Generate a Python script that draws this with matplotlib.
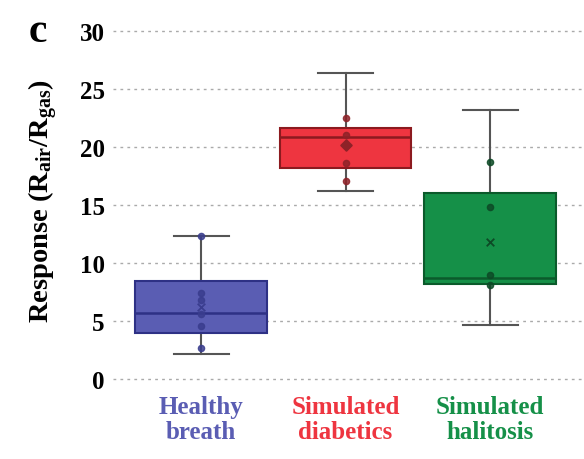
import matplotlib.pyplot as plt

plt.rcParams['font.family'] = ['Liberation Serif', 'DejaVu Serif']
plt.rcParams['font.weight'] = 'bold'
plt.rcParams['axes.labelweight'] = 'bold'
plt.rcParams['mathtext.fontset'] = 'custom'
plt.rcParams['mathtext.rm'] = 'Liberation Serif:bold'
plt.rcParams['mathtext.it'] = 'Liberation Serif:bold'
plt.rcParams['mathtext.bf'] = 'Liberation Serif:bold'
plt.rcParams['mathtext.default'] = 'rm'

groups = ['Healthy\nbreath', 'Simulated\ndiabetics', 'Simulated\nhalitosis']
whislo = [2.2, 16.2, 4.7]
q1 = [4.0, 18.2, 8.2]
med = [5.7, 20.9, 8.75]
q3 = [8.5, 21.6, 16.0]
whishi = [12.3, 26.4, 23.2]
means = [6.2, 20.2, 11.8]
mean_markers = ['x', 'D', 'x']
points = [
    [12.3, 7.4, 6.8, 5.6, 4.6, 2.7],
    [22.5, 21.0, 18.6, 17.1],
    [18.7, 14.8, 9.0, 8.1],
]

fills = ['#5a5db3', '#ee3540', '#159048']
edges = ['#2e3185', '#8c1a1f', '#0b5a2b']
dots = ['#3a3d8e', '#8e2228', '#0d4a26']

fig = plt.figure(figsize=(5.84, 4.60), dpi=100)
ax = fig.add_axes([0.1935, 0.163, 0.8065, 0.778])

stats = []
for i in range(3):
    stats.append({'whislo': whislo[i], 'q1': q1[i], 'med': med[i],
                  'q3': q3[i], 'whishi': whishi[i], 'fliers': []})

bp = ax.bxp(stats, positions=[0, 1, 2], widths=0.91, patch_artist=True,
            showfliers=False, capwidths=0.38)
for i in range(3):
    bp['boxes'][i].set_facecolor(fills[i])
    bp['boxes'][i].set_edgecolor(edges[i])
    bp['boxes'][i].set_linewidth(1.5)
    bp['boxes'][i].set_zorder(2)
    bp['medians'][i].set_color(edges[i])
    bp['medians'][i].set_linewidth(1.8)
    bp['medians'][i].set_zorder(3)
for line in bp['whiskers'] + bp['caps']:
    line.set_color('#555555')
    line.set_linewidth(1.5)
    line.set_zorder(1)

for i in range(3):
    ax.scatter([i] * len(points[i]), points[i], s=20, color=dots[i], alpha=0.85, zorder=4)
    ax.scatter([i], [means[i]], marker=mean_markers[i], s=30, color=dots[i],
               linewidths=1.3, zorder=4)

ax.set_xlim(-0.61, 2.65)
ax.set_ylim(-0.4, 30.4)
ax.set_yticks(range(0, 31, 5))
ax.set_xticks([0, 1, 2])
ax.set_xticklabels(groups, fontsize=18, linespacing=1.12)
for lab, c in zip(ax.get_xticklabels(), fills):
    lab.set_color(c)
ax.tick_params(axis='y', labelsize=18, length=0, pad=6)
ax.tick_params(axis='x', length=0, pad=8)
ax.yaxis.grid(True, linestyle=(0, (2, 3)), color='#aaaaaa', linewidth=1.0)
ax.set_axisbelow(True)
for s in ax.spines.values():
    s.set_visible(False)

ax.set_ylabel('Response (R$_{air}$/R$_{gas}$)', fontsize=20.5, fontweight='bold')
ax.yaxis.set_label_coords(-0.113, 0.514)
fig.text(0.064, 0.93, 'c', fontsize=30, fontweight='bold', va='center', ha='center')

fig.savefig('out.png', dpi=100)
